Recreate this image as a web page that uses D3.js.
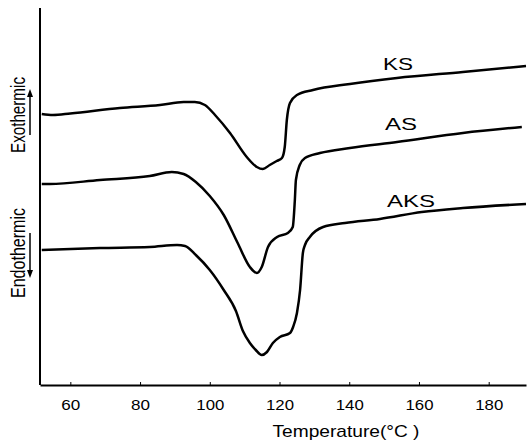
<!DOCTYPE html>
<html><head><meta charset="utf-8">
<script src="https://cdn.jsdelivr.net/npm/d3@7"></script>
<style>body{margin:0;background:#fff}svg{display:block}text{font-family:"Liberation Sans",Arial,sans-serif;fill:#000}</style>
</head><body>
<svg id="c" width="529" height="441"></svg>
<script>
// Temperature (°C) and heat flow (arbitrary units, offset curves)
const ksT = [51.8,55.0,60.0,74.2,85.7,92.5,95.7,98.6,101.5,105.8,110.6,113.5,115.2,117.2,119.2,120.7,121.5,122.1,123.0,125.0,129.6,140.2,153.7,172.6,190.7];
const ksV = [271,270,271.5,277,280,283,283,280,270,252,228,218,216,220,224,227,238,265,282,290,295,301,307,313,319];
const asT = [51.8,54.1,68.5,82.8,89.1,92.5,96.0,100.0,104.0,108.0,111.5,113.5,114.9,116.7,119.3,122.4,123.8,124.4,124.7,125.8,127.3,131.6,140.2,153.7,172.6,189.5];
const asV = [201,201,205,209,213,211,203,189,170,142,118,112,118,138,148,152,158,185,205,220,227,232,237,243,252,258];
const aksT = [51.8,68.5,82.8,90.6,92.9,96.0,100.0,104.0,107.5,109.5,111.5,113.2,114.9,116.4,118.1,120.1,123.0,123.9,125.0,125.9,126.7,127.3,128.7,132.5,138.8,148.8,160.8,172.6,190.7];
const aksV = [135,137,138,140,139,130,115,95,74,54,42,35,30,33,42,48,52,58,72,95,132,140,148,158,162,166,173,177,181];
const seriesNames = ["KS","AS","AKS"];
const xTicks = [60,80,100,120,140,160,180];

const svg = d3.select("#c");
const x = d3.scaleLinear().domain([51.3,190.7]).range([40,526]);
const y = d3.scaleLinear().domain([0,377]).range([385,8]);

// axes
svg.append("line").attr("x1",40).attr("x2",40).attr("y1",8).attr("y2",385).attr("stroke","#000").attr("stroke-width",2);
const xa = svg.append("g").attr("transform","translate(0,385)")
  .call(d3.axisBottom(x).tickValues(xTicks).tickSize(-3).tickSizeOuter(0).tickPadding(10));
xa.select(".domain").attr("stroke","#000").attr("stroke-width",2);
xa.selectAll(".tick line").attr("stroke","#000").attr("stroke-width",1);
xa.selectAll(".tick text").attr("font-size",14).attr("font-family","Liberation Sans, Arial, sans-serif")
  .attr("dy","1.05em").each(function(d){
    const t=d3.select(this); t.attr("textLength", String(d).length===3?28:19).attr("lengthAdjust","spacingAndGlyphs");
  });

svg.append("text").attr("x",346).attr("y",437).attr("text-anchor","middle").attr("font-size",17)
  .attr("textLength",147).attr("lengthAdjust","spacingAndGlyphs").text("Temperature(°C )");

// vertical labels
svg.append("text").attr("transform","translate(25,115) rotate(-90)").attr("text-anchor","middle")
  .attr("font-size",20).attr("textLength",76).attr("lengthAdjust","spacingAndGlyphs").text("Exothermic");
svg.append("text").attr("transform","translate(25,253) rotate(-90)").attr("text-anchor","middle")
  .attr("font-size",20).attr("textLength",90).attr("lengthAdjust","spacingAndGlyphs").text("Endothermic");
// arrows
svg.append("line").attr("x1",30).attr("x2",30).attr("y1",135).attr("y2",94).attr("stroke","#000").attr("stroke-width",1.5);
svg.append("path").attr("d","M30,89 L27,97 L33,97 Z").attr("fill","#000");
svg.append("line").attr("x1",30).attr("x2",30).attr("y1",233).attr("y2",273).attr("stroke","#000").attr("stroke-width",1.5);
svg.append("path").attr("d","M30,278 L27,270 L33,270 Z").attr("fill","#000");

// curves
const line = d3.line().x(d=>x(d[0])).y(d=>y(d[1])).curve(d3.curveMonotoneX);
const series = [[ksT,ksV],[asT,asV],[aksT,aksV]];
series.forEach(([T,V])=>{
  svg.append("path").datum(T.map((t,i)=>[t,V[i]])).attr("d",line)
    .attr("fill","none").attr("stroke","#000").attr("stroke-width",2.5).attr("stroke-linejoin","round");
});

// series labels
const labPos = [[383,70,30],[385,130,32],[387,207,48]];
seriesNames.forEach((n,i)=>{
  svg.append("text").attr("x",labPos[i][0]).attr("y",labPos[i][1]).attr("font-size",16)
    .attr("textLength",labPos[i][2]).attr("lengthAdjust","spacingAndGlyphs").text(n);
});
</script>
</body></html>
